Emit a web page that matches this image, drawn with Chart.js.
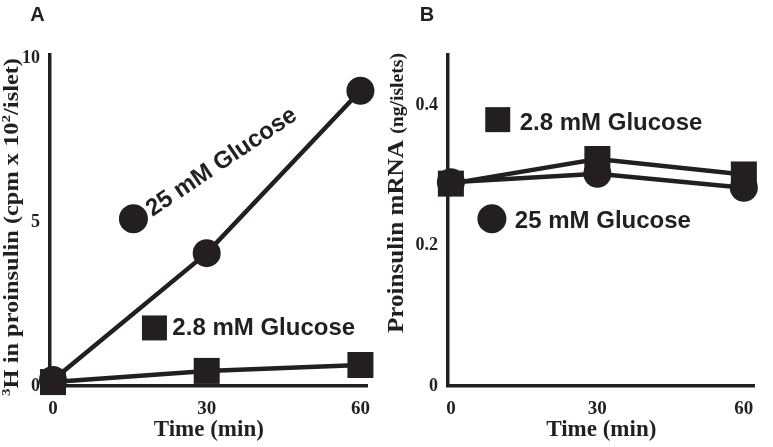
<!DOCTYPE html>
<html>
<head>
<meta charset="utf-8">
<script src="https://cdn.jsdelivr.net/npm/chart.js@4.4.0/dist/chart.umd.min.js"></script>
<style>
  html, body { margin: 0; padding: 0; background: #fff; }
  #wrap { position: relative; width: 773px; height: 447px; }
  canvas { position: absolute; top: 0; }
  #panelA { left: 0; }
  #panelB { left: 386px; }
</style>
</head>
<body>
<div id="wrap">
  <canvas id="panelA" width="386" height="447"></canvas>
  <canvas id="panelB" width="387" height="447"></canvas>
</div>
<script>
// ----- Data -----
const times = [0, 30, 60]
const xTicks = [0, 30, 60]

// Panel A: 3H in proinsulin (cpm x 10^2/islet)
const aHigh = [0.18, 4.05, 9.0]    // 25 mM glucose
const aLow = [0.12, 0.46, 0.64]    // 2.8 mM glucose
const aTicks = [0, 5, 10]

// Panel B: proinsulin mRNA (ng/islets)
const bHigh = [0.29, 0.302, 0.282]  // 25 mM glucose
const bLow = [0.288, 0.323, 0.301]  // 2.8 mM glucose
const bTicks = [0, 0.2, 0.4]

const ink = "#231f20"
const serif = '"Liberation Serif", "Times New Roman", serif'
const sans = '"Liberation Sans", Arial, sans-serif'

const pts = (ys) => times.map((t, i) => ({ x: t, y: ys[i] }))

// rotated y title with superscripts, stretched to a given length
function sideTitle(ctx, t) {
  ctx.save()
  ctx.translate(t.x, t.y)
  ctx.rotate(-Math.PI / 2)
  const widths = t.parts.map(p => {
    ctx.font = `bold ${p.size}px ${serif}`
    return ctx.measureText(p.text).width
  })
  const total = widths.reduce((a, b) => a + b, 0)
  ctx.scale(t.len / total, 1)
  ctx.textAlign = "left"
  ctx.textBaseline = "alphabetic"
  let u = 0
  t.parts.forEach((p, i) => {
    ctx.font = `bold ${p.size}px ${serif}`
    ctx.fillText(p.text, u, -(p.rise || 0))
    u += widths[i]
  })
  ctx.restore()
}

function annotate(cfg) {
  return {
    id: "annotate",
    afterDraw(chart) {
      const ctx = chart.ctx
      const xs = chart.scales.x, ys = chart.scales.y
      ctx.save()
      ctx.fillStyle = ink

      ctx.font = `bold 20px ${sans}`
      ctx.textAlign = "center"
      ctx.textBaseline = "middle"
      ctx.fillText(cfg.letter, cfg.letterAt[0], cfg.letterAt[1])

      sideTitle(ctx, cfg.yTitle)

      // in-plot legend
      cfg.notes.forEach(n => {
        const mx = xs.getPixelForValue(n.at[0]), my = ys.getPixelForValue(n.at[1])
        if (n.marker === "circle") {
          ctx.beginPath()
          ctx.arc(mx, my, 14.5, 0, Math.PI * 2)
          ctx.fill()
        } else {
          ctx.fillRect(mx - 12.5, my - 12.5, 25, 25)
        }
        const tx = xs.getPixelForValue(n.textAt[0]), ty = ys.getPixelForValue(n.textAt[1])
        ctx.save()
        ctx.translate(tx, ty)
        if (n.angle) ctx.rotate(n.angle * Math.PI / 180)
        ctx.font = `bold 24px ${sans}`
        ctx.textAlign = "left"
        ctx.textBaseline = "alphabetic"
        ctx.fillText(n.text, 0, 0)
        ctx.restore()
      })
      ctx.restore()
    }
  }
}

function makePanel(canvas, p) {
  const tickSet = (list) => (scale) => { scale.ticks = list.map(v => ({ value: v })) }
  return new Chart(canvas, {
    type: "line",
    data: {
      datasets: [
        {
          label: "2.8 mM Glucose", data: pts(p.low), order: 1,
          borderColor: ink, borderWidth: 4.5,
          pointStyle: "rect", pointRadius: 18.4, pointHoverRadius: 18.4,
          pointBackgroundColor: ink, pointBorderWidth: 0, clip: false
        },
        {
          label: "25 mM Glucose", data: pts(p.high), order: 2,
          borderColor: ink, borderWidth: 4.5,
          pointStyle: "circle", pointRadius: 14, pointHoverRadius: 14,
          pointBackgroundColor: ink, pointBorderWidth: 0, clip: false
        }
      ]
    },
    options: {
      responsive: false,
      animation: false,
      devicePixelRatio: 1,
      layout: { padding: { top: 55, right: p.padRight, left: 0, bottom: 0 } },
      plugins: { legend: { display: false }, tooltip: { enabled: false } },
      scales: {
        x: {
          type: "linear", min: p.xMin, max: p.xMax,
          afterBuildTicks: tickSet(xTicks),
          afterFit: (s) => { s.height = 61 },
          grid: { display: false, drawTicks: false },
          border: { display: true, color: ink, width: 3.5 },
          ticks: { color: ink, padding: 12, font: { family: serif, size: 19, weight: "bold" } },
          title: {
            display: true, text: "Time (min)", color: ink,
            font: { family: serif, size: 23, weight: "bold" },
            padding: { top: 0, bottom: 3 }
          }
        },
        y: {
          type: "linear", min: 0, max: p.yMax,
          afterBuildTicks: tickSet(p.yTicks),
          afterFit: (s) => { s.width = p.yWidth },
          grid: { display: false, drawTicks: false },
          border: { display: true, color: ink, width: 3.5 },
          ticks: {
            color: ink, padding: 10,
            font: { family: serif, size: 18, weight: "bold" },
            callback: p.fmt
          }
        }
      }
    },
    plugins: [annotate(p.notes)]
  })
}

makePanel(document.getElementById("panelA"), {
  low: aLow, high: aHigh, yTicks: aTicks,
  xMin: -0.58, xMax: 61.4, yMax: 10.09, yWidth: 50, padRight: 17,
  fmt: (v) => String(v),
  notes: {
    letter: "A", letterAt: [37.5, 15],
    yTitle: {
      x: 18, y: 396, len: 338,
      parts: [
        { text: "3", size: 13, rise: 8 },
        { text: "H in proinsulin (cpm x 10", size: 21 },
        { text: "2", size: 13, rise: 8 },
        { text: "/islet)", size: 21 }
      ]
    },
    notes: [
      { marker: "circle", at: [15.7, 5.1], text: "25 mM Glucose", textAt: [19.4, 5.15], angle: -34 },
      { marker: "rect", at: [19.8, 1.77], text: "2.8 mM Glucose", textAt: [23.3, 1.55] }
    ]
  }
})

makePanel(document.getElementById("panelB"), {
  low: bLow, high: bHigh, yTicks: bTicks,
  xMin: -0.59, xMax: 62.2, yMax: 0.471, yWidth: 62, padRight: 5,
  fmt: (v) => (v === 0 ? "0" : v.toFixed(1)),
  notes: {
    letter: "B", letterAt: [41, 15],
    yTitle: {
      x: 17, y: 333, len: 280,
      parts: [
        { text: "Proinsulin mRNA ", size: 23 },
        { text: "(ng/islets)", size: 18 }
      ]
    },
    notes: [
      { marker: "rect", at: [9.6, 0.379], text: "2.8 mM Glucose", textAt: [14.1, 0.364] },
      { marker: "circle", at: [8.4, 0.238], text: "25 mM Glucose", textAt: [13.1, 0.225] }
    ]
  }
})
</script>
</body>
</html>
